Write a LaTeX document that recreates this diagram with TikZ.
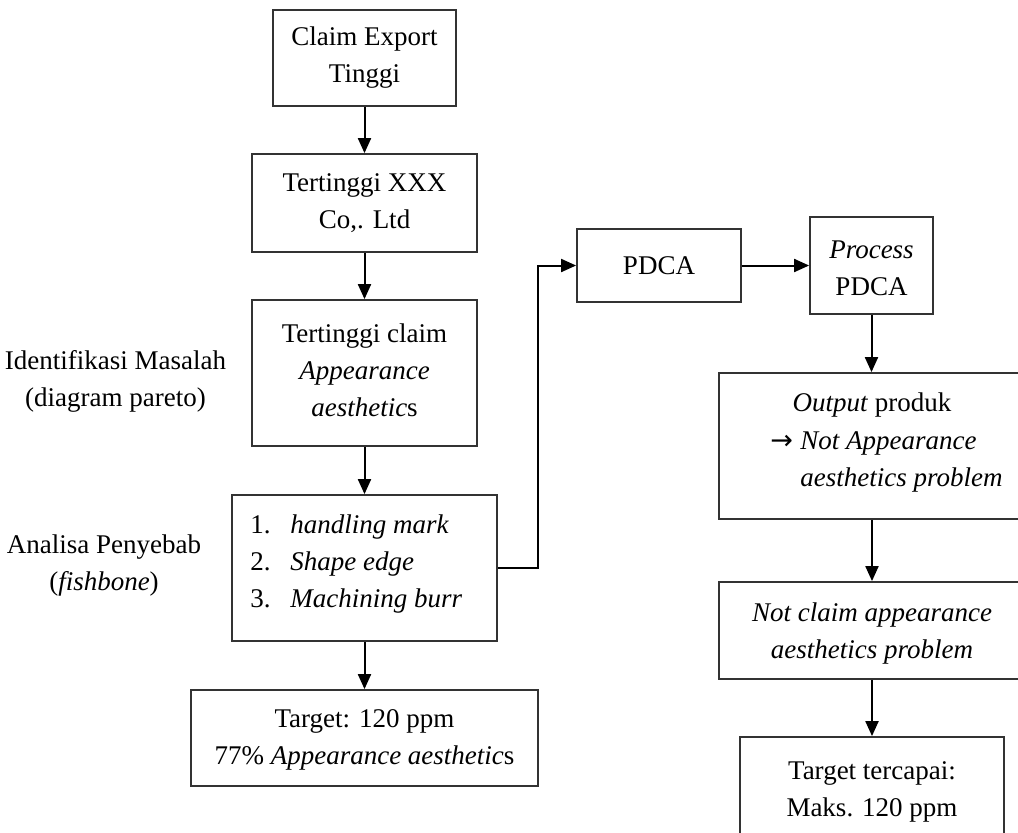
\documentclass[tikz,border=0pt]{standalone}
\usepackage{fontspec}
\setmainfont{Liberation Serif}
\newfontfamily\symfont{DejaVu Sans}
\usetikzlibrary{arrows.meta}
\begin{document}
\begin{tikzpicture}[x=0.5pt,y=-0.5pt,
  every node/.style={font=\fontsize{13.5pt}{18.5pt}\selectfont},
  box/.style={draw=black!80, line width=0.9pt, inner sep=0pt, align=center, fill=white},
  txt/.style={inner sep=0pt, align=center},
  arr/.style={line width=1pt, -{Triangle[length=7.5pt,width=6.5pt]}}]
\useasboundingbox (0,0) rectangle (1018,832);
\clip (0,0) rectangle (1018,832);
\fill[white] (0,0) rectangle (1018,832);

% left column
\node[box, minimum width=91.5pt, minimum height=48pt] (b1) at (364.5,58) {Claim Export\\Tinggi};
\node[box, minimum width=112.5pt, minimum height=49pt] (b2) at (364.5,203) {Tertinggi XXX\\Co,. Ltd};
\node[box, minimum width=112.5pt, minimum height=73pt] (b3) at (364.5,373) {};
\node[txt] (b3t) at (364.5,370) {Tertinggi claim\\\textit{Appearance}\\\textit{aesthetic}s};
\node[box, minimum width=132.5pt, minimum height=73pt] (b4) at (364.5,568) {};
\node[txt, anchor=west, align=left] (b4t) at (250,564) {\makebox[20pt][l]{1.}\textit{handling mark}\\\makebox[20pt][l]{2.}\textit{Shape edge}\\\makebox[20pt][l]{3.}\textit{Machining burr}};
\node[box, minimum width=173.5pt, minimum height=48pt] (b5) at (364.5,738) {};
\node[txt] (b5t) at (364.5,740) {Target: 120 ppm\\77\% \textit{Appearance aesthetic}s};

% labels
\node[txt] (l1) at (115.5,381.5) {Identifikasi Masalah\\(diagram pareto)};
\node[txt] (l2) at (104,565) {Analisa Penyebab\\(\textit{fishbone})};

% right part
\node[box, minimum width=82pt, minimum height=36.5pt] (p1) at (659,265.5) {PDCA};
\node[box, minimum width=61.5pt, minimum height=48.5pt] (p2) at (871.5,265.5) {};
\node[txt] (p2t) at (871.5,268) {\textit{Process}\\PDCA};
\node[box, minimum width=153pt, minimum height=73pt] (o) at (872,446) {};
\node[txt] (o1) at (872,405) {\textit{Output} produk};
\node[txt, anchor=west, align=left] (o2) at (770,461.5) {\makebox[15pt][l]{\symfont →}\textit{Not Appearance}\\\makebox[15pt][l]{}\textit{aesthetics problem}};
\node[box, minimum width=153pt, minimum height=48.5pt] (n) at (872,630.5) {};
\node[txt] (nt) at (872,633) {\textit{Not claim appearance}\\\textit{aesthetics problem}};
\node[box, minimum width=132pt, minimum height=49pt] (t) at (872,786) {};
\node[txt] (tt) at (872,792) {Target tercapai:\\Maks. 120 ppm};

% connectors
\draw[arr] (b1) -- (b2);
\draw[arr] (b2) -- (b3);
\draw[arr] (b3) -- (b4);
\draw[arr] (b4) -- (b5);
\draw[arr] (b4.east) -- ++(40,0) |- (p1.west);
\draw[arr] (p1) -- (p2);
\draw[arr] (p2.south) -- (o.north -| p2.south);
\draw[arr] (o) -- (n);
\draw[arr] (n) -- (t);
\end{tikzpicture}
\end{document}
